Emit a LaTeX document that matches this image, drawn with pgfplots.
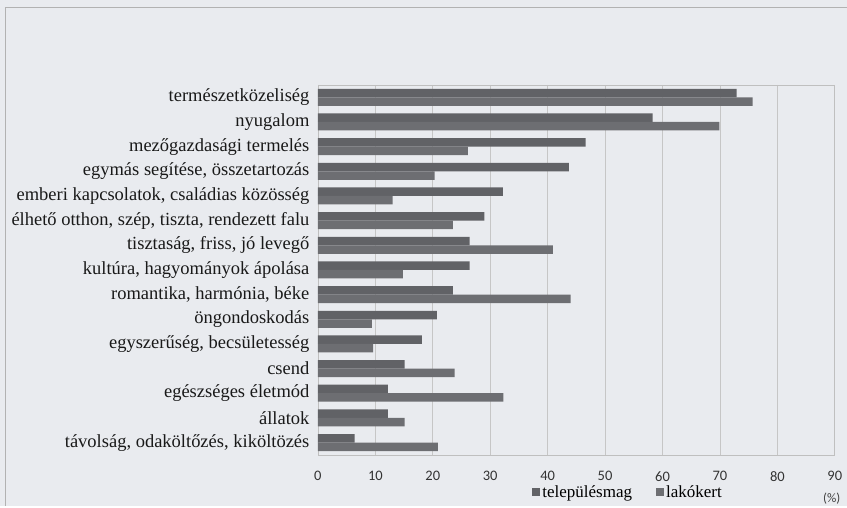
\documentclass[border=0pt]{standalone}
\usepackage{pgfplots}
\pgfplotsset{compat=1.18}
\usepackage{fontspec}
\setmainfont{Liberation Serif}
\newfontfamily\tickfont{Carlito}
\definecolor{bg}{HTML}{E9EBEF}
\definecolor{barA}{HTML}{616266}
\definecolor{barB}{HTML}{6D6E72}
\pgfplotstableread{
idx telep lako
0 72.9 75.7
1 58.3 69.9
2 46.6 26.1
3 43.7 20.3
4 32.2 13.0
5 29.0 23.5
6 26.4 40.9
7 26.4 14.8
8 23.5 44.0
9 20.7 9.4
10 18.1 9.6
11 15.1 23.8
12 12.2 32.3
13 12.2 15.1
14 6.4 20.9
}\data
\begin{document}
\begin{tikzpicture}
\fill[bg] (-318pt,-51pt) rectangle (529pt,455pt);
\draw[gray!60] (-313pt,-51pt) -- (-313pt,448pt) -- (529pt,448pt);
\begin{axis}[at={(0,0)}, anchor=south west, scale only axis,
  width=517pt, height=370pt,
  xbar, bar width=8.5pt,
  y dir=reverse,
  xmin=0, xmax=90, ymin=-0.5, ymax=14.5,
  xtick={0,10,...,90},
  ytick={0,...,14},
  yticklabels={természetközeliség,nyugalom,mezőgazdasági termelés,{egymás segítése, összetartozás},{emberi kapcsolatok, családias közösség},{élhető otthon, szép, tiszta, rendezett falu},{tisztaság,  friss, jó levegő},{kultúra, hagyományok ápolása},{romantika, harmónia, béke},öngondoskodás,{egyszerűség, becsületesség},csend,egészséges életmód,állatok,{távolság, odaköltőzés, kiköltözés}},
  yticklabel style={font=\fontsize{18.5}{20}\selectfont, text=black!90, xshift=-5pt},
  xticklabel style={font=\tickfont\fontsize{14.5}{16}\selectfont, text=black!80, yshift=-13pt},
  /pgf/number format/assume math mode=true,
  major tick length=0pt,
  xmajorgrids, grid style={gray!45, line width=0.6pt},
  axis line style={gray!50, line width=0.6pt},
  legend style={at={(0.6,-0.1)}, anchor=center, draw=none, fill=none,
    legend columns=2, font=\fontsize{17}{19}\selectfont,
    /tikz/every even column/.append style={column sep=22pt}},
  legend image code/.code={\fill[#1] (0pt,-4pt) rectangle (8pt,4pt);},
]
\addplot[fill=barA, draw=none, bar shift=4.25pt] table[x=telep, y=idx] {\data};
\addplot[fill=barB, draw=none, bar shift=-4.25pt] table[x=lako, y=idx] {\data};
\legend{településmag, lakókert}
\end{axis}
\node[font=\tickfont\fontsize{13}{15}\selectfont, text=black!75] at (514pt,-44pt) {(\%)};
\end{tikzpicture}
\end{document}
